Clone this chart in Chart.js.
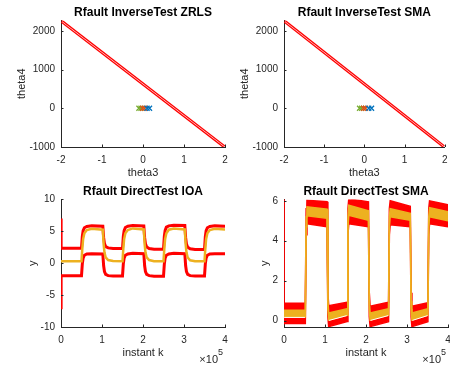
<!DOCTYPE html>
<html>
<head>
<meta charset="utf-8">
<script src="https://cdn.jsdelivr.net/npm/chart.js@4.4.1/dist/chart.umd.min.js"></script>
<style>
  html, body { margin: 0; padding: 0; background: #fff; }
  #wrap { position: relative; width: 450px; height: 365px; }
  #wrap canvas { position: absolute; left: 0; top: 0; }
</style>
</head>
<body>
<div id="wrap">
  <canvas id="zrls" width="450" height="365"></canvas>
  <canvas id="smaInv" width="450" height="365"></canvas>
  <canvas id="ioa" width="450" height="365"></canvas>
  <canvas id="smaDir" width="450" height="365"></canvas>
</div>
<script>
// ---- values ----
const theta3Ticks = [-2, -1, 0, 1, 2];
const theta4Ticks = [-1000, 0, 1000, 2000];
const kTicks = [0, 1, 2, 3, 4];            // instant k, x 1e5
const ioaTicks = [-10, -5, 0, 5, 10];
const smaTicks = [0, 2, 4, 6];

// inverse tests: fault line (drawn double) and estimates near the origin
const lineTheta3 = [-2, 2];
const zrlsLineA = [2290, -975];
const zrlsLineB = [2230, -1035];
const smaLineA = [2290, -975];
const smaLineB = [2230, -1035];
const zrlsGreenX = [-0.1, -0.05];
const zrlsOrangeX = [-0.01, 0.04];
const zrlsBlueX = [0.1, 0.16];
const smaGreenX = [-0.12, -0.07];
const smaOrangeX = [-0.02, 0.03];
const smaBlueX = [0.11, 0.18];
const markY = [0, 0];

// direct test IOA: output and its two red bounds
const kIOA = [0, 0.003,
  0.5, 0.52, 0.54, 0.57, 0.63, 0.75,
  1.02, 1.04, 1.06, 1.09, 1.15, 1.27,
  1.5, 1.52, 1.54, 1.57, 1.63, 1.75,
  2.02, 2.04, 2.06, 2.09, 2.15, 2.27,
  2.5, 2.52, 2.54, 2.57, 2.63, 2.75,
  3.02, 3.04, 3.06, 3.09, 3.15, 3.27,
  3.5, 3.52, 3.54, 3.57, 3.63, 3.75, 4.0];
const ioaUpper = [7, 2.35,
  2.35, 4.2, 5.1, 5.55, 5.75, 5.85,
  5.8, 4.0, 3.1, 2.6, 2.4, 2.3,
  2.3, 4.2, 5.1, 5.6, 5.8, 5.9,
  5.85, 4.0, 3.05, 2.55, 2.3, 2.2,
  2.2, 4.2, 5.15, 5.65, 5.85, 5.95,
  5.9, 4.0, 3.0, 2.5, 2.25, 2.15,
  2.15, 4.15, 5.1, 5.55, 5.75, 5.85, 5.8];
const ioaY = [0.3, 0.3,
  0.3, 2.3, 3.8, 4.7, 5.2, 5.4,
  5.25, 3.0, 1.7, 0.9, 0.5, 0.35,
  0.3, 2.3, 3.8, 4.7, 5.2, 5.45,
  5.3, 3.0, 1.7, 0.9, 0.5, 0.3,
  0.3, 2.3, 3.8, 4.7, 5.25, 5.45,
  5.3, 3.0, 1.7, 0.9, 0.45, 0.3,
  0.3, 2.3, 3.8, 4.7, 5.2, 5.4, 5.3];
const ioaLower = [-7, -1.95,
  -1.95, -0.1, 0.8, 1.25, 1.45, 1.5,
  1.45, -0.4, -1.3, -1.75, -1.95, -2.0,
  -2.0, -0.1, 0.8, 1.25, 1.45, 1.55,
  1.5, -0.4, -1.3, -1.75, -1.95, -2.05,
  -2.05, -0.15, 0.8, 1.25, 1.45, 1.55,
  1.5, -0.4, -1.3, -1.75, -1.95, -2.0,
  -2.0, -0.1, 0.8, 1.25, 1.45, 1.5, 1.5];

// direct test SMA: envelopes of the noisy red and yellow bands
const kSMA = [0, 0.004,
  0.52, 0.54, 0.56, 1.05, 1.07, 1.09,
  1.54, 1.56, 1.58, 2.06, 2.08, 2.10,
  2.55, 2.57, 2.59, 3.08, 3.10, 3.12,
  3.51, 3.53, 3.55, 4.0];
const smaRedTop = [7, 0.87,
  0.87, 5.6, 6.03, 5.95, 1.4, 0.75,
  0.92, 5.6, 6.1, 5.95, 1.4, 0.72,
  0.92, 5.6, 6.0, 5.72, 1.4, 0.72,
  0.9, 5.6, 6.0, 5.8];
const smaRedBot = [-1, -0.15,
  -0.15, 4.3, 4.85, 4.7, 0.2, -0.3,
  -0.05, 4.3, 4.85, 4.7, 0.2, -0.3,
  -0.05, 4.3, 4.8, 4.7, 0.2, -0.3,
  -0.05, 4.3, 4.85, 4.7];
const smaYelTop = [0.52, 0.52,
  0.52, 5.2, 5.7, 5.58, 1.0, 0.38,
  0.6, 5.2, 5.78, 5.5, 1.0, 0.38,
  0.6, 5.2, 5.6, 5.37, 1.0, 0.38,
  0.6, 5.2, 5.65, 5.45];
const smaYelBot = [0.18, 0.18,
  0.18, 4.7, 5.25, 5.12, 0.6, 0.03,
  0.27, 4.7, 5.28, 5.03, 0.6, 0.03,
  0.27, 4.7, 5.2, 5.03, 0.6, 0.03,
  0.27, 4.7, 5.2, 5.0];
// thin white trace under the yellow band in the low stretches
const kWhite = [0.004, 0.51, 0.515, 1.1, 1.53, 1.535, 2.11, 2.54, 2.545, 3.13, 3.5];
const yWhite = [0.16, 0.16, null, 0.01, 0.25, null, 0.01, 0.25, null, 0.01, 0.25];

// ---- drawing ----
const AX = '#262626';
const RED = '#ff0000';
const YEL = '#edb120';
Chart.defaults.font.family = '"Liberation Sans", Arial, Helvetica, sans-serif';
Chart.defaults.color = AX;

const pts = (xs, ys) => xs.map((x, i) => ({ x: x, y: ys[i] }));

const inwardTicks = {
  id: 'inwardTicks',
  afterDatasetsDraw(chart) {
    const { ctx, chartArea: a, scales: { x, y } } = chart;
    ctx.save();
    ctx.strokeStyle = AX;
    ctx.lineWidth = 1;
    ctx.beginPath();
    x.ticks.forEach(t => {
      const px = Math.round(x.getPixelForValue(t.value)) + 0.5;
      ctx.moveTo(px, a.bottom);
      ctx.lineTo(px, a.bottom - 2.5);
    });
    y.ticks.forEach(t => {
      const py = Math.round(y.getPixelForValue(t.value)) + 0.5;
      ctx.moveTo(a.left, py);
      ctx.lineTo(a.left + 2.5, py);
    });
    ctx.stroke();
    ctx.restore();
  }
};

const expLabel = {
  id: 'expLabel',
  afterDraw(chart, args, opts) {
    if (!opts.exp) return;
    const { ctx, chartArea: a } = chart;
    ctx.save();
    ctx.fillStyle = AX;
    ctx.textBaseline = 'middle';
    ctx.textAlign = 'right';
    const r = a.right - 2;
    ctx.font = '9px "Liberation Sans", Arial, sans-serif';
    ctx.fillText(opts.exp, r, a.bottom + 26);
    const w = ctx.measureText(opts.exp).width;
    ctx.font = '11px "Liberation Sans", Arial, sans-serif';
    ctx.fillText('\u00d710', r - w, a.bottom + 33);
    ctx.restore();
  }
};

function panel(id, p) {
  const area = p.area;
  new Chart(document.getElementById(id), {
    type: 'line',
    data: { datasets: p.datasets },
    plugins: [inwardTicks, expLabel],
    options: {
      responsive: false,
      animation: false,
      events: [],
      layout: { padding: { left: area.l - 50, right: 450 - area.r, top: p.top, bottom: 365 - area.b - 35 } },
      elements: { point: { radius: 0 }, line: { tension: 0 } },
      plugins: {
        legend: { display: false },
        tooltip: { enabled: false },
        title: {
          display: true, text: p.title, fullSize: false, color: '#000',
          font: { size: 12, weight: 'bold' }, padding: { top: 5, bottom: 1 }
        },
        expLabel: { exp: p.exp || '' }
      },
      scales: {
        x: {
          type: 'linear', min: p.xMin, max: p.xMax,
          grid: { display: false, drawTicks: false },
          border: { display: true, color: AX, width: 1 },
          ticks: { color: AX, font: { size: 10 }, padding: 7, maxRotation: 0, autoSkip: false, callback: v => String(v) },
          title: { display: true, text: p.xLabel, color: AX, font: { size: 11 }, padding: { top: 0, bottom: 2 } },
          afterBuildTicks: s => { s.ticks = p.xTicks.map(v => ({ value: v })); },
          afterFit: s => { s.height = 35; s.paddingLeft = 0; s.paddingRight = 0; }
        },
        y: {
          type: 'linear', min: p.yMin, max: p.yMax,
          grid: { display: false, drawTicks: false },
          border: { display: true, color: AX, width: 1 },
          ticks: { color: AX, font: { size: 10 }, padding: 6, autoSkip: false, callback: v => String(v) },
          title: { display: true, text: p.yLabel, color: AX, font: { size: 11 }, padding: { top: p.yTitlePad, bottom: 0 } },
          afterBuildTicks: s => { s.ticks = p.yTicks.map(v => ({ value: v })); },
          afterFit: s => { s.width = 50; s.paddingTop = 0; s.paddingBottom = 0; }
        }
      }
    }
  });
}

function markers(xs, color) {
  return { data: pts(xs, markY), showLine: false, pointStyle: 'crossRot', pointRadius: 3.5,
           borderColor: color, pointBorderWidth: 1.3, backgroundColor: color };
}

function inversePanel(id, title, area, lineA, lineB, gx, ox, bx) {
  panel(id, {
    area: area, top: 0, title: title,
    xMin: -2, xMax: 2, yMin: -1000, yMax: 2270,
    xTicks: theta3Ticks, yTicks: theta4Ticks,
    xLabel: 'theta3', yLabel: 'theta4', yTitlePad: 4,
    datasets: [
      markers(bx, '#0072bd'),
      markers(ox, '#d95319'),
      markers(gx, '#77ac30'),
      { data: pts(lineTheta3, lineA), borderColor: RED, borderWidth: 1.4, clip: 0 },
      { data: pts(lineTheta3, lineB), borderColor: RED, borderWidth: 1.4, clip: 0 }
    ]
  });
}

inversePanel('zrls', 'Rfault InverseTest ZRLS', { l: 61, r: 225, b: 147 },
  zrlsLineA, zrlsLineB, zrlsGreenX, zrlsOrangeX, zrlsBlueX);
inversePanel('smaInv', 'Rfault InverseTest SMA', { l: 284, r: 448, b: 147 },
  smaLineA, smaLineB, smaGreenX, smaOrangeX, smaBlueX);

panel('ioa', {
  area: { l: 61, r: 225, b: 327 }, top: 179, title: 'Rfault DirectTest IOA',
  xMin: 0, xMax: 4, yMin: -10, yMax: 10,
  xTicks: kTicks, yTicks: ioaTicks,
  xLabel: 'instant k', yLabel: 'y', yTitlePad: 15, exp: '5',
  datasets: [
    { data: pts(kIOA, ioaY), borderColor: YEL, borderWidth: 2.5 },
    { data: pts(kIOA, ioaUpper), borderColor: RED, borderWidth: 3 },
    { data: pts(kIOA, ioaLower), borderColor: RED, borderWidth: 3 }
  ]
});

panel('smaDir', {
  area: { l: 284, r: 448, b: 327 }, top: 179, title: 'Rfault DirectTest SMA',
  xMin: 0, xMax: 4, yMin: -0.32, yMax: 6.07,
  xTicks: kTicks, yTicks: smaTicks,
  xLabel: 'instant k', yLabel: 'y', yTitlePad: 24, exp: '5',
  datasets: [
    { data: pts(kWhite, yWhite), borderColor: '#ffffff', borderWidth: 1, spanGaps: false },
    { data: pts(kSMA, smaYelTop), borderColor: YEL, borderWidth: 1.5 },
    { data: pts(kSMA, smaYelBot), borderColor: YEL, borderWidth: 1.5, fill: '-1', backgroundColor: YEL },
    { data: pts(kSMA, smaRedTop), borderColor: RED, borderWidth: 1.5 },
    { data: pts(kSMA, smaRedBot), borderColor: RED, borderWidth: 1.5, fill: '-1', backgroundColor: RED }
  ]
});
</script>
</body>
</html>
